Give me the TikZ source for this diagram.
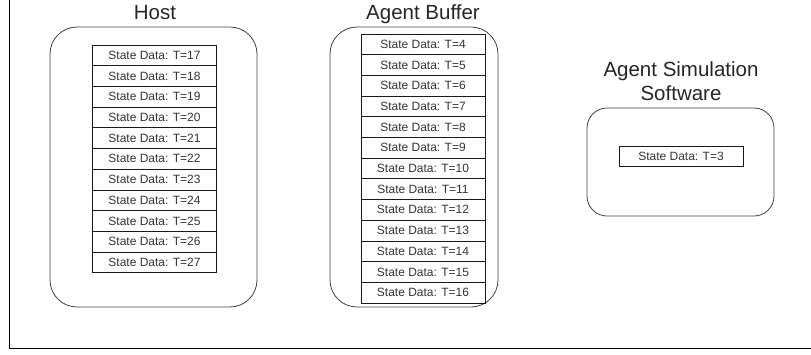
\documentclass[tikz,border=0pt]{standalone}
\usepackage{fontspec}
\setmainfont{Liberation Sans}
\usepackage{tikz}
\usetikzlibrary{calc}

\tikzset{
    holder/.style={draw=black!75, line width=0.8pt, rounded corners=27pt},
    cell/.style={draw=black!90, line width=0.8pt, minimum width=124pt, minimum height=20.7pt, inner sep=0pt, font=\fontsize{12}{14}\selectfont, text=black!80},
    heading/.style={font=\fontsize{20.5}{24}\selectfont, text=black!85, align=center}
}

\begin{document}
\begin{tikzpicture}[x=1pt, y=-1pt]
        \useasboundingbox (0,0) rectangle (811,354);
        % outer frame, only left and bottom edges
        \draw[line width=1.2pt](9.5,0)--(9.5,348.3)--(811,348.3);
        % containers
        \draw[holder] (50,27) rectangle (257,307);
        \draw[holder] (330,27) rectangle (498,307);
        \draw[holder, rounded corners=20pt] (587,108) rectangle (774,216);
        \node[heading] (hosttitle) at (155,13){Host};
        \node[heading] (buffertitle) at (423,14){Agent Buffer};
        \node[heading] (simtitle) at (681,81){Agent Simulation\\Software};
        % host queue
        \node[cell] (h17) at (154.5,55.35){State Data: T=17};
        \node[cell] (h18) at (154.5,76.05){State Data: T=18};
        \node[cell] (h19) at (154.5,96.75){State Data: T=19};
        \node[cell] (h20) at (154.5,117.45){State Data: T=20};
        \node[cell] (h21) at (154.5,138.15){State Data: T=21};
        \node[cell] (h22) at (154.5,158.85){State Data: T=22};
        \node[cell] (h23) at (154.5,179.55){State Data: T=23};
        \node[cell] (h24) at (154.5,200.25){State Data: T=24};
        \node[cell] (h25) at (154.5,220.95){State Data: T=25};
        \node[cell] (h26) at (154.5,241.65){State Data: T=26};
        \node[cell] (h27) at (154.5,262.35){State Data: T=27};
        % agent buffer queue
        \node[cell] (b4) at (423,44.25){State Data: T=4};
        \node[cell] (b5) at (423,64.95){State Data: T=5};
        \node[cell] (b6) at (423,85.65){State Data: T=6};
        \node[cell] (b7) at (423,106.35){State Data: T=7};
        \node[cell] (b8) at (423,127.05){State Data: T=8};
        \node[cell] (b9) at (423,147.75){State Data: T=9};
        \node[cell] (b10) at (423,168.45){State Data: T=10};
        \node[cell] (b11) at (423,189.15){State Data: T=11};
        \node[cell] (b12) at (423,209.85){State Data: T=12};
        \node[cell] (b13) at (423,230.55){State Data: T=13};
        \node[cell] (b14) at (423,251.25){State Data: T=14};
        \node[cell] (b15) at (423,271.95){State Data: T=15};
        \node[cell] (b16) at (423,292.65){State Data: T=16};
        % current step in the simulation
        \node[cell] (s3) at (681,156.5){State Data: T=3};
    \end{tikzpicture}
\end{document}
